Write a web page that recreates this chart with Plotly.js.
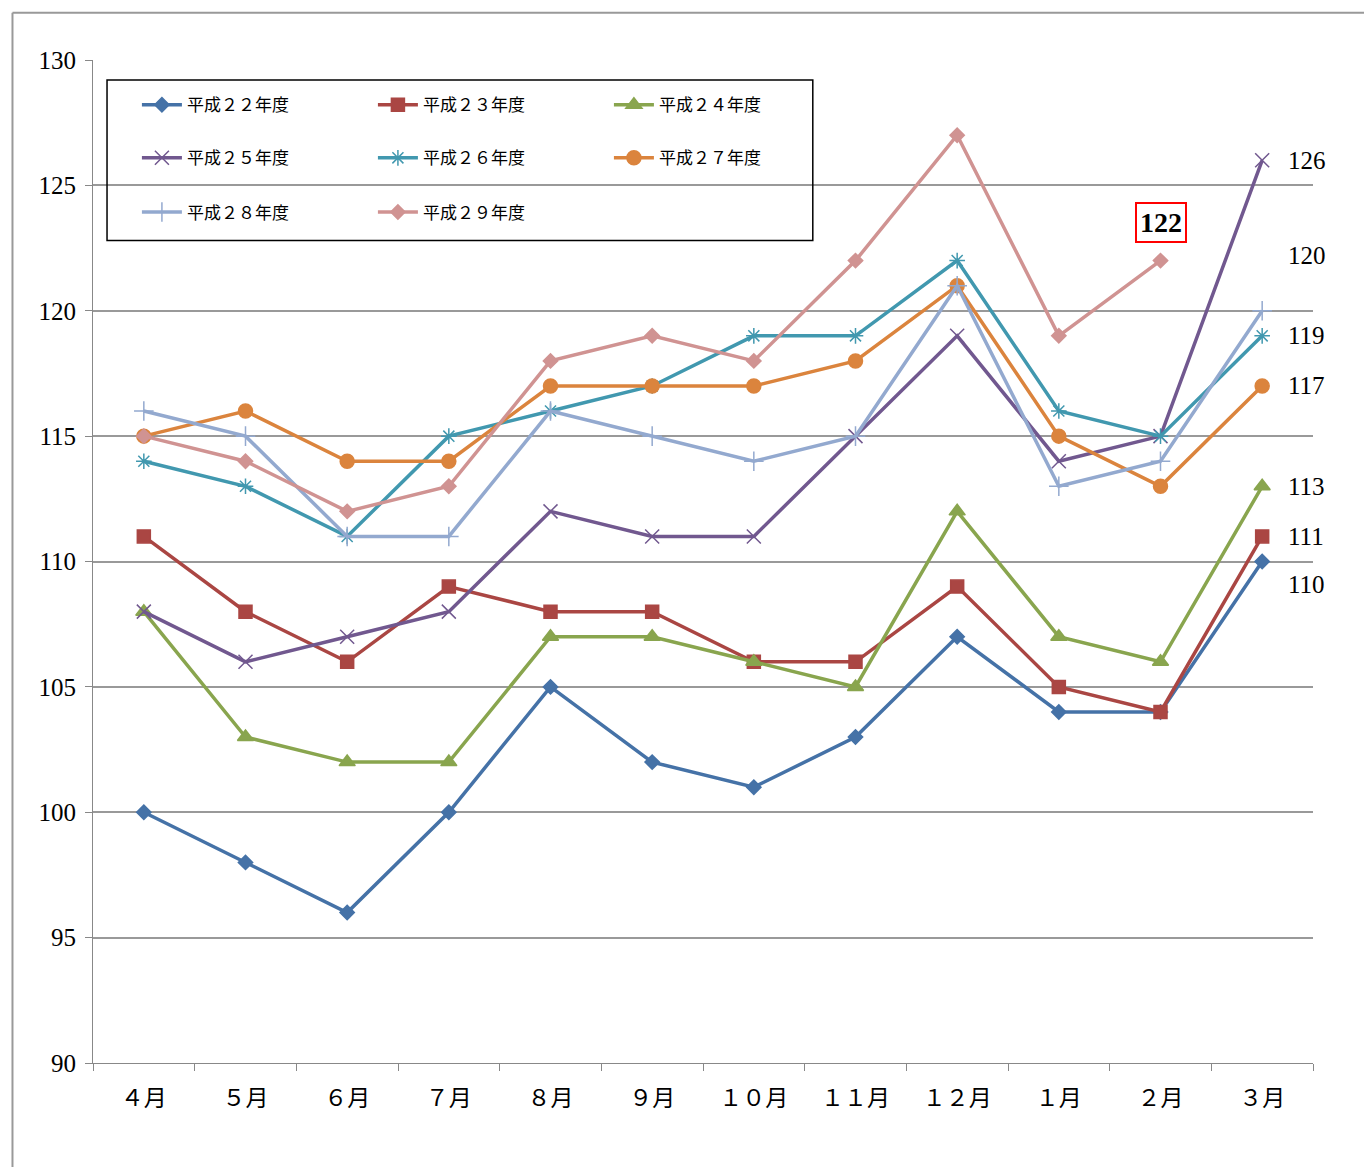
<!DOCTYPE html>
<html><head><meta charset="utf-8">
<script src="https://cdn.plot.ly/plotly-3.0.1.min.js"></script>
<style>body{margin:0;background:#fff}#chart{width:1364px;height:1167px}</style>
</head><body><div id="chart"></div>
<script>
const months = ["４月","５月","６月","７月","８月","９月","１０月","１１月","１２月","１月","２月","３月"];
const names = ["平成２２年度","平成２３年度","平成２４年度","平成２５年度","平成２６年度","平成２７年度","平成２８年度","平成２９年度"];
const h22 = [100,98,96,100,105,102,101,103,107,104,104,110];
const h23 = [111,108,106,109,108,108,106,106,109,105,104,111];
const h24 = [108,103,102,102,107,107,106,105,112,107,106,113];
const h25 = [108,106,107,108,112,111,111,115,119,114,115,126];
const h26 = [114,113,111,115,116,117,119,119,122,116,115,119];
const h27 = [115,116,114,114,117,117,117,118,121,115,113,117];
const h28 = [116,115,111,111,116,115,114,115,121,113,114,120];
const h29 = [115,114,112,113,118,119,118,122,127,119,122];
const series = [h22,h23,h24,h25,h26,h27,h28,h29];
const colors = ["#4572A7","#AA4643","#89A54E","#71588F","#4198AF","#DB843D","#93A9CF","#D09392"];
const symbols = ["diamond","square","triangle-up","x-thin-open","asterisk-open","circle","cross-thin-open","diamond"];
const sizes = [11,13,14,14,13,14,14,11];
const legendOf = ["legend","legend","legend","legend2","legend2","legend2","legend3","legend3"];
// right side labels: [value, label y offset]
const endLabels = [[126,0],[120,2.2],[119,0],[117,0],[113,0],[111,0],[110,-0.9]];

const traces = series.map((s, i) => ({
  x: months.slice(0, s.length), y: s, name: names[i], type: "scatter", mode: "lines+markers",
  line: {color: colors[i], width: 3.5},
  marker: {symbol: symbols[i], size: sizes[i], color: colors[i], line: {color: colors[i], width: 1.5}},
  legend: legendOf[i]
}));

const lg = (y) => ({orientation: "h", x: 0.036, y: y, xanchor: "left", yanchor: "middle", entrywidth: 181,
  bgcolor: "rgba(0,0,0,0)", font: {family: "Noto Sans CJK JP", size: 17, color: "#000"}, itemwidth: 40});

const ann = endLabels.map(([v, off]) => ({x: 0.978, xref: "paper", y: v + off, yref: "y", xanchor: "left",
  text: String(v), showarrow: false, font: {family: "Liberation Serif", size: 25, color: "#000"}}));
ann.push({x: months[10], y: h29[10] + 1.5, text: "<b>" + h29[10] + "</b>", showarrow: false,
  font: {family: "Liberation Serif", size: 28, color: "#000"}, bordercolor: "#ff0000", borderwidth: 2, borderpad: 3, bgcolor: "#fff"});

Plotly.newPlot("chart", traces, {
  width: 1364, height: 1167, margin: {l: 93, r: 51, t: 60, b: 104},
  paper_bgcolor: "#fff", plot_bgcolor: "#fff", showlegend: true,
  legend: lg(0.955), legend2: lg(0.902), legend3: lg(0.848),
  xaxis: {type: "category", range: [-0.5, 11.5], tickson: "boundaries", ticks: "outside", ticklen: 7, tickcolor: "#888",
    showline: true, linecolor: "#888", showgrid: false, ticklabelstandoff: 14,
    tickfont: {family: "Noto Sans CJK JP", size: 23, color: "#000"}},
  yaxis: {range: [90, 130], dtick: 5, ticks: "outside", ticklen: 7, tickcolor: "#888", showline: true, linecolor: "#888",
    gridcolor: "#999", gridwidth: 1.5, zeroline: false, ticklabelstandoff: 4,
    tickfont: {family: "Liberation Serif", size: 25, color: "#000"}},
  shapes: [
    {type: "rect", xref: "paper", yref: "paper", x0: 0.0115, x1: 0.590, y0: 0.82, y1: 0.98, line: {color: "#000", width: 1.5}},
    {type: "line", xref: "paper", yref: "paper", x0: -0.066, x1: 1.2, y0: 1.047, y1: 1.047, line: {color: "#999", width: 2}},
    {type: "line", xref: "paper", yref: "paper", x0: -0.066, x1: -0.066, y0: 1.047, y1: -0.2, line: {color: "#999", width: 2}}
  ],
  annotations: ann
}, {displayModeBar: false});
</script></body></html>
